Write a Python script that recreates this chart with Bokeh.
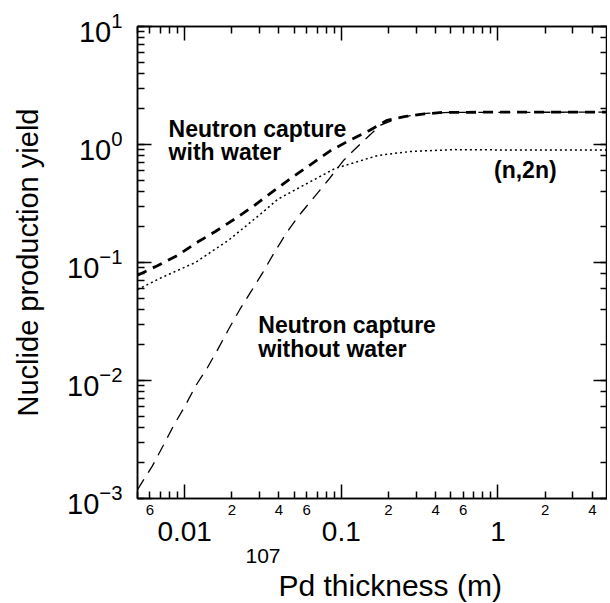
from bokeh.plotting import figure
from bokeh.models import (Range1d, LogAxis, LinearAxis, FixedTicker, LogTicker, Label, Title)
from bokeh.embed import file_html
from bokeh.resources import INLINE

# ---- data ----
x_with_water = [0.005, 0.0067, 0.009, 0.0121, 0.0157, 0.0211, 0.0278, 0.0478, 0.0631,
                0.0845, 0.112, 0.150, 0.195, 0.257, 0.329, 0.44, 1.0, 5.0]
y_with_water = [0.078, 0.094, 0.115, 0.149, 0.183, 0.236, 0.304, 0.52, 0.67,
                0.88, 1.08, 1.31, 1.60, 1.73, 1.81, 1.87, 1.88, 1.88]

x_without_water = [0.005, 0.0062, 0.0073, 0.0085, 0.0101, 0.0118, 0.0139, 0.0164, 0.0192,
                   0.0225, 0.0268, 0.0315, 0.037, 0.044, 0.053, 0.0655, 0.082, 0.104,
                   0.133, 0.178, 0.232, 0.33, 0.5, 5.0]
y_without_water = [0.00119, 0.00187, 0.00281, 0.00415, 0.00614, 0.00907, 0.0127, 0.0187, 0.0276,
                   0.040, 0.058, 0.082, 0.119, 0.173, 0.245, 0.345, 0.495, 0.74,
                   1.02, 1.46, 1.68, 1.83, 1.87, 1.88]

x_n2n = [0.005, 0.00714, 0.0117, 0.019, 0.0308, 0.0395, 0.091, 0.171, 0.276, 0.526, 1.0, 5.0]
y_n2n = [0.059, 0.0746, 0.100, 0.154, 0.260, 0.345, 0.626, 0.807, 0.873, 0.905, 0.90, 0.90]

# ---- ticks / tick labels ----
x_decades = [0.01, 0.1, 1]
x_decade_labels = ["0.01", "0.1", "1"]
x_minor_labeled = [0.006, 0.02, 0.04, 0.06, 0.2, 0.4, 0.6, 2, 4]
x_minor_labels = ["6", "2", "4", "6", "2", "4", "6", "2", "4"]
x_minor_all = [m * d for d in [0.001, 0.01, 0.1, 1] for m in range(2, 10)
               if 0.005 <= m * d <= 5.0001 and m * d not in x_decades]

x_title_sup = "107"
x_title_main = "Pd thickness (m)"
y_title = "Nuclide production yield"

FONT = "Liberation Sans"

p = figure(x_axis_type="log", y_axis_type="log",
           x_range=Range1d(0.005, 5), y_range=Range1d(1e-3, 10),
           frame_width=470, frame_height=472,
           min_border_left=137, min_border_top=26, min_border_right=0, min_border_bottom=104,
           output_backend="svg", toolbar_location=None)
p.xgrid.visible = False
p.ygrid.visible = False
p.outline_line_color = "black"
p.outline_line_width = 1.5
p.background_fill_color = "white"
p.border_fill_color = "white"


def style_ticks(ax):
    ax.major_tick_in = 14
    ax.major_tick_out = 0
    ax.minor_tick_in = 7
    ax.minor_tick_out = 0
    ax.major_tick_line_width = 1.5
    ax.minor_tick_line_width = 1.5
    ax.axis_line_width = 1.5
    ax.major_tick_line_color = "black"
    ax.minor_tick_line_color = "black"
    ax.axis_line_color = "black"


def hide_labels(ax):
    ax.major_label_text_font_size = "1px"
    ax.major_label_text_alpha = 0
    ax.major_label_standoff = 0


# bottom axis on the frame: ticks only
xa = p.xaxis[0]
xa.ticker = FixedTicker(ticks=x_decades, minor_ticks=x_minor_all)
style_ticks(xa)
hide_labels(xa)

# minor labels row
xb = LinearAxis(ticker=FixedTicker(ticks=x_minor_labeled),
                major_label_overrides=dict(zip(x_minor_labeled, x_minor_labels)))
xb.axis_line_color = None
xb.major_tick_line_color = None
xb.minor_tick_line_color = None
xb.major_tick_in = 0
xb.major_tick_out = 0
xb.major_label_standoff = 6
xb.major_label_text_font = FONT
xb.major_label_text_font_size = "15px"
xb.major_label_text_color = "black"
p.add_layout(xb, "below")

# decade labels row
xc = LinearAxis(ticker=FixedTicker(ticks=x_decades),
                major_label_overrides=dict(zip(x_decades, x_decade_labels)))
xc.axis_line_color = None
xc.major_tick_line_color = None
xc.minor_tick_line_color = None
xc.major_tick_in = 0
xc.major_tick_out = 0
xc.major_label_standoff = 4
xc.major_label_text_font = FONT
xc.major_label_text_font_size = "28px"
xc.major_label_text_color = "black"
p.add_layout(xc, "below")

# x-axis title: superscript mass number, then the main text
p.add_layout(Title(text=x_title_sup, align="left", offset=108, standoff=7,
                   text_font=FONT, text_font_size="21px", text_font_style="normal",
                   text_color="black"), "below")
p.add_layout(Title(text=x_title_main, align="left", offset=141, standoff=0,
                   text_font=FONT, text_font_size="30px", text_font_style="normal",
                   text_color="black"), "below")

# top axis: ticks only
xt = LogAxis(ticker=FixedTicker(ticks=x_decades, minor_ticks=x_minor_all))
style_ticks(xt)
hide_labels(xt)
p.add_layout(xt, "above")

# left axis
ya = p.yaxis[0]
style_ticks(ya)
ya.major_label_text_font = FONT
ya.major_label_text_font_size = "29px"
ya.major_label_text_color = "black"
ya.major_label_standoff = 15
ya.axis_label = y_title
ya.axis_label_text_font = FONT
ya.axis_label_text_font_size = "29px"
ya.axis_label_text_font_style = "normal"
ya.axis_label_text_color = "black"
ya.axis_label_standoff = 20

# right axis: ticks only
yr = LogAxis(ticker=LogTicker())
style_ticks(yr)
hide_labels(yr)
p.add_layout(yr, "right")

# ---- curves ----
p.line(x_with_water, y_with_water, line_color="black", line_width=2.8, line_dash="10 7")
p.line(x_without_water, y_without_water, line_color="black", line_width=1.3, line_dash="12 8")
p.line(x_n2n, y_n2n, line_color="black", line_width=1.5, line_dash="2 3")

# ---- annotations ----
for (tx, ty, txt) in [(0.0079, 1.76, "Neutron capture\nwith water"),
                      (0.0295, 0.0377, "Neutron capture\nwithout water"),
                      (0.943, 0.79, "(n,2n)")]:
    p.add_layout(Label(x=tx, y=ty, text=txt, text_font=FONT, text_font_style="bold",
                       text_font_size="23px", text_color="black", text_baseline="top",
                       text_align="left", text_line_height=0.92))

open("out.html", "w").write(file_html(p, INLINE))
